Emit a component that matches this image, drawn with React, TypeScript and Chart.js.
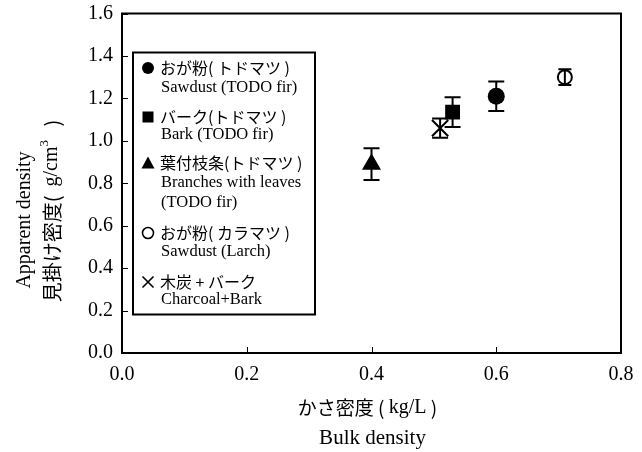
import React, { useEffect, useRef } from "react";
import { Chart, registerables } from "chart.js";

Chart.register(...registerables);

// ---- data ----
const seriesJa = ["おが粉( トドマツ )", "バーク(トドマツ )", "葉付枝条(トドマツ )", "おが粉( カラマツ )", "木炭 + バーク"];
const seriesEn = [["Sawdust (TODO fir)"], ["Bark (TODO fir)"], ["Branches with leaves", "(TODO fir)"], ["Sawdust (Larch)"], ["Charcoal+Bark"]];
const bulkDensity = [0.6, 0.53, 0.4, 0.71, 0.51];
const apparentDensity = [1.21, 1.135, 0.89, 1.3, 1.06];
const apparentError = [0.07, 0.07, 0.075, 0.037, 0.045];
const xTickValues = [0, 0.2, 0.4, 0.6, 0.8];
const yTickValues = [0, 0.2, 0.4, 0.6, 0.8, 1.0, 1.2, 1.4, 1.6];

const SERIF = "'Liberation Serif', 'Times New Roman', serif";
const JP = "'Noto Sans CJK JP', 'Noto Sans', sans-serif";

type Seg = { t: string; f: string; dy?: number };

function drawLine(ctx: CanvasRenderingContext2D, segs: Seg[], cx: number, cy: number) {
  let total = 0;
  const widths = segs.map((s) => {
    ctx.font = s.f;
    const w = ctx.measureText(s.t).width;
    total += w;
    return w;
  });
  let x = cx - total / 2;
  ctx.textBaseline = "middle";
  ctx.textAlign = "left";
  segs.forEach((s, i) => {
    ctx.font = s.f;
    ctx.fillText(s.t, x, cy + (s.dy || 0));
    x += widths[i];
  });
}

function drawMarker(ctx: CanvasRenderingContext2D, kind: number, x: number, y: number) {
  ctx.save();
  ctx.fillStyle = "#000";
  ctx.strokeStyle = "#000";
  ctx.beginPath();
  if (kind === 0) {
    ctx.arc(x, y, 6, 0, Math.PI * 2);
    ctx.fill();
  } else if (kind === 1) {
    ctx.fillRect(x - 5.5, y - 5.5, 11, 11);
  } else if (kind === 2) {
    ctx.moveTo(x, y - 6.5);
    ctx.lineTo(x + 6.5, y + 5.5);
    ctx.lineTo(x - 6.5, y + 5.5);
    ctx.closePath();
    ctx.fill();
  } else if (kind === 3) {
    ctx.lineWidth = 1.6;
    ctx.arc(x, y, 5.5, 0, Math.PI * 2);
    ctx.stroke();
  } else {
    ctx.lineWidth = 1.6;
    ctx.moveTo(x - 5.5, y - 5.5);
    ctx.lineTo(x + 5.5, y + 5.5);
    ctx.moveTo(x + 5.5, y - 5.5);
    ctx.lineTo(x - 5.5, y + 5.5);
    ctx.stroke();
  }
  ctx.restore();
}

const decorPlugin = {
  id: "decor",
  afterDatasetsDraw(chart: any) {
    const ctx: CanvasRenderingContext2D = chart.ctx;
    const xs = chart.scales.x;
    const ys = chart.scales.y;
    ctx.save();
    ctx.strokeStyle = "#000";
    ctx.lineWidth = 2;
    for (let i = 0; i < bulkDensity.length; i++) {
      const px = xs.getPixelForValue(bulkDensity[i]);
      const top = ys.getPixelForValue(apparentDensity[i] + apparentError[i]);
      const bot = ys.getPixelForValue(apparentDensity[i] - apparentError[i]);
      const cap = i === 3 ? 6.5 : 8;
      ctx.beginPath();
      ctx.moveTo(px, top);
      ctx.lineTo(px, bot);
      ctx.moveTo(px - cap, top);
      ctx.lineTo(px + cap, top);
      ctx.moveTo(px - cap, bot);
      ctx.lineTo(px + cap, bot);
      ctx.stroke();
    }
    ctx.restore();
  },
  afterDraw(chart: any) {
    const ctx: CanvasRenderingContext2D = chart.ctx;
    const a = chart.chartArea;
    const xs = chart.scales.x;
    const ys = chart.scales.y;
    ctx.save();
    // inner ticks
    ctx.strokeStyle = "#000";
    ctx.lineWidth = 1;
    ctx.beginPath();
    yTickValues.forEach((v) => {
      const py = Math.round(ys.getPixelForValue(v)) + 0.5;
      ctx.moveTo(a.left, py);
      ctx.lineTo(a.left + 6, py);
    });
    xTickValues.forEach((v) => {
      const px = Math.round(xs.getPixelForValue(v)) + 0.5;
      ctx.moveTo(px, a.bottom);
      ctx.lineTo(px, a.bottom - 6);
    });
    ctx.stroke();
    // frame
    ctx.lineWidth = 2;
    ctx.strokeRect(a.left, a.top, a.right - a.left, a.bottom - a.top);

    // axis titles
    ctx.fillStyle = "#000";
    const cx = (a.left + a.right) / 2;
    drawLine(ctx, [
      { t: "かさ密度", f: `19px ${JP}` },
      { t: " ( ", f: `19px ${JP}` },
      { t: "kg/L", f: `20px ${SERIF}` },
      { t: " )", f: `19px ${JP}` },
    ], cx - 4, 408);
    drawLine(ctx, [{ t: "Bulk density", f: `21px ${SERIF}` }], cx + 1, 438);

    ctx.save();
    ctx.translate(25, 220);
    ctx.rotate(-Math.PI / 2);
    drawLine(ctx, [{ t: "Apparent density", f: `20px ${SERIF}` }], 0, 0);
    ctx.restore();
    ctx.save();
    ctx.translate(52, 211);
    ctx.rotate(-Math.PI / 2);
    drawLine(ctx, [
      { t: "見掛け密度", f: `20px ${JP}` },
      { t: "(  ", f: `20px ${JP}` },
      { t: "g/cm", f: `20px ${SERIF}` },
      { t: "3", f: `13px ${SERIF}`, dy: -7 },
      { t: "   )", f: `20px ${JP}` },
    ], 0, 0);
    ctx.restore();

    // legend box
    const lx = a.left + 11;
    const ly = a.top + 39;
    ctx.lineWidth = 2;
    ctx.strokeRect(lx, ly, 182, 262);
    const rows: { kind: number; ja?: string; en?: string; y: number }[] = [];
    const jaY = [68, 117, 163, 233, 282];
    const enStart = [88, 135, 183, 252, 300];
    for (let i = 0; i < seriesJa.length; i++) {
      rows.push({ kind: i, ja: seriesJa[i], y: jaY[i] });
      seriesEn[i].forEach((line, j) => rows.push({ kind: -1, en: line, y: enStart[i] + j * 20 }));
    }
    ctx.textAlign = "left";
    ctx.textBaseline = "middle";
    rows.forEach((r) => {
      if (r.ja) {
        drawMarker(ctx, r.kind, lx + 15, r.y);
        ctx.font = `16px ${JP}`;
        ctx.fillText(r.ja, lx + 27, r.y);
      } else if (r.en) {
        ctx.font = `16.5px ${SERIF}`;
        ctx.fillText(r.en, lx + 28, r.y);
      }
    });
    ctx.restore();
  },
};

export default function App() {
  const ref = useRef<HTMLCanvasElement | null>(null);
  useEffect(() => {
    if (!ref.current) return;
    const styles = [
      { pointStyle: "circle", radius: 8.5, bg: "#000", bw: 0 },
      { pointStyle: "rect", radius: 10.5, bg: "#000", bw: 0 },
      { pointStyle: "triangle", radius: 11, bg: "#000", bw: 0 },
      { pointStyle: "circle", radius: 7, bg: "#fff", bw: 2 },
      { pointStyle: "crossRot", radius: 11.5, bg: "#000", bw: 2 },
    ];
    const chart = new Chart(ref.current, {
      type: "scatter",
      data: {
        datasets: seriesJa.map((name, i) => ({
          label: name,
          data: [{ x: bulkDensity[i], y: apparentDensity[i] }],
          pointStyle: styles[i].pointStyle as any,
          pointRadius: styles[i].radius,
          pointBackgroundColor: styles[i].bg,
          pointBorderColor: "#000",
          pointBorderWidth: styles[i].bw,
        })),
      },
      options: {
        responsive: false,
        animation: false,
        events: [],
        layout: { padding: { left: 0, right: 21, top: 13, bottom: 0 } },
        plugins: { legend: { display: false }, tooltip: { enabled: false } },
        scales: {
          x: {
            type: "linear",
            min: 0,
            max: 0.8,
            afterFit: (s: any) => { s.height = 99; s.paddingLeft = 0; s.paddingRight = 0; },
            afterBuildTicks: (s: any) => { s.ticks = xTickValues.map((v) => ({ value: v })); },
            grid: { display: false, drawTicks: false },
            border: { display: false },
            ticks: {
              padding: 10,
              color: "#000",
              font: { family: SERIF, size: 20 },
              callback: (v: any) => Number(v).toFixed(1),
            },
          },
          y: {
            type: "linear",
            min: 0,
            max: 1.6,
            afterFit: (s: any) => { s.width = 122; s.paddingTop = 0; s.paddingBottom = 0; },
            afterBuildTicks: (s: any) => { s.ticks = yTickValues.map((v) => ({ value: v })); },
            grid: { display: false, drawTicks: false },
            border: { display: false },
            ticks: {
              padding: 9,
              color: "#000",
              font: { family: SERIF, size: 20 },
              callback: (v: any) => Number(v).toFixed(1),
            },
          },
        },
      },
      plugins: [decorPlugin],
    });
    return () => chart.destroy();
  }, []);
  return (
    <div style={{ position: "absolute", left: 0, top: 0, width: 642, height: 452, background: "#fff" }}>
      <canvas ref={ref} width={642} height={452} style={{ display: "block" }} />
    </div>
  );
}
